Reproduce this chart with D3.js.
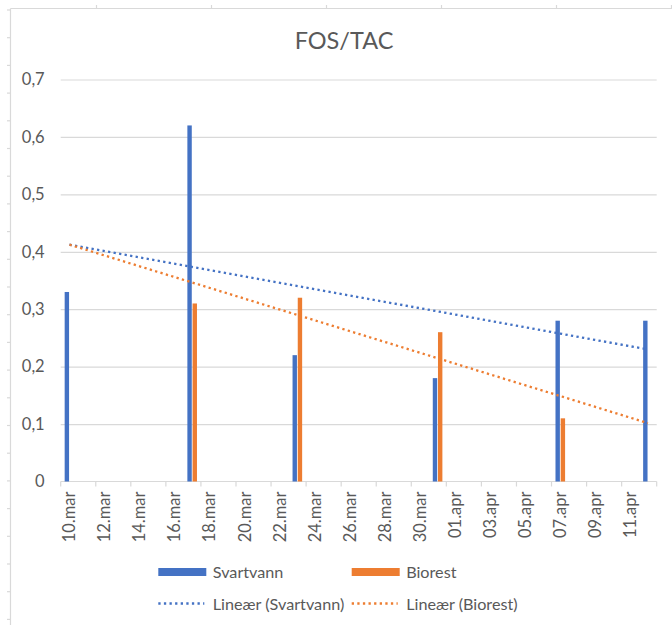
<!DOCTYPE html>
<html>
<head>
<meta charset="utf-8">
<script src="https://cdn.jsdelivr.net/npm/d3@7"></script>
<style>
  html, body { margin: 0; padding: 0; background: #ffffff; }
  svg { display: block; font-family: Lato, "Open Sans", sans-serif; }
</style>
</head>
<body>
<svg id="chart" width="672" height="625"></svg>
<script>
// Measurement dates and FOS/TAC values per series
const dates = ["2021-03-10", "2021-03-17", "2021-03-23", "2021-03-31", "2021-04-07", "2021-04-12"];
const svartvann = [0.33, 0.62, 0.22, 0.18, 0.28, 0.28];
const biorest = [null, 0.31, 0.32, 0.26, 0.11, null];

const seriesNames = ["Svartvann", "Biorest"];
const trendNames = ["Lineær (Svartvann)", "Lineær (Biorest)"];

const xTickLabels = ["10.mar", "12.mar", "14.mar", "16.mar", "18.mar", "20.mar", "22.mar", "24.mar",
  "26.mar", "28.mar", "30.mar", "01.apr", "03.apr", "05.apr", "07.apr", "09.apr", "11.apr"];
const yTickValues = [0, 0.1, 0.2, 0.3, 0.4, 0.5, 0.6, 0.7];
const yTickLabels = ["0", "0,1", "0,2", "0,3", "0,4", "0,5", "0,6", "0,7"];

const colors = { Svartvann: "#4472C4", Biorest: "#ED7D31" };
const textColor = "#595959";
const lineColor = "#d9d9d9";

const svg = d3.select("#chart");
const W = 672, H = 625;

// Sheet frame with header ticks along the top and left edges
const frame = svg.append("g").attr("stroke", lineColor).attr("stroke-width", 1.2).attr("fill", "none");
frame.append("line").attr("x1", 10.5).attr("x2", W).attr("y1", 8.5).attr("y2", 8.5);
frame.append("line").attr("x1", 10.5).attr("x2", 10.5).attr("y1", 8.5).attr("y2", H);
d3.range(96.5, W + 1, 115).forEach(px =>
  frame.append("line").attr("x1", px).attr("x2", px).attr("y1", 5).attr("y2", 8.5));
d3.range(10, H, 27.7).forEach(py =>
  frame.append("line").attr("x1", 7).attr("x2", 10.5).attr("y1", py).attr("y2", py));

// Plot scales
const parse = s => { const [yy, m, d] = s.split("-").map(Number); return new Date(Date.UTC(yy, m - 1, d)); };
const dayMs = 864e5;
const parsed = dates.map(parse);
const start = parsed[0];
const end = new Date(parsed[parsed.length - 1].getTime() + dayMs);

const plotLeft = 60.7, plotRight = 656.7, plotTop = 79.5, plotBottom = 481.5;
const x = d3.scaleUtc().domain([start, end]).range([plotLeft, plotRight]);
const y = d3.scaleLinear().domain([0, 0.7]).range([plotBottom, plotTop]);
const halfDay = (x(new Date(start.getTime() + dayMs)) - x(start)) / 2;
const cx = d => x(d) + halfDay;

// Title
svg.append("text")
  .attr("x", 344).attr("y", 48.5)
  .attr("text-anchor", "middle")
  .attr("fill", textColor)
  .style("font-size", "23.5px")
  .text("FOS/TAC");

// Horizontal gridlines and y labels
const yAxis = d3.axisLeft(y)
  .tickValues(yTickValues)
  .tickSize(-(plotRight - plotLeft))
  .tickPadding(16)
  .tickFormat((d, i) => yTickLabels[i]);
const gy = svg.append("g").attr("transform", `translate(${plotLeft},0)`).call(yAxis);
gy.select(".domain").remove();
gy.selectAll(".tick line").attr("stroke", lineColor).attr("stroke-width", 1.2);
gy.selectAll(".tick line").filter(d => d === 0).remove();
gy.selectAll(".tick text")
  .attr("fill", textColor)
  .style("font-size", "16.5px")
  .style("font-family", "Lato, sans-serif");

// Date axis: ticks every second day, labels at the centre of the day
const tickDates = d3.range(0, 35, 2).map(k => new Date(start.getTime() + k * dayMs));
const xAxisG = svg.append("g").attr("transform", `translate(0,${plotBottom})`);
xAxisG.append("line")
  .attr("x1", plotLeft).attr("x2", plotRight)
  .attr("stroke", lineColor).attr("stroke-width", 1.2);
xAxisG.selectAll("line.tick").data(tickDates).join("line")
  .attr("class", "tick")
  .attr("x1", d => x(d)).attr("x2", d => x(d))
  .attr("y1", 0).attr("y2", 5)
  .attr("stroke", lineColor).attr("stroke-width", 1.2);
xAxisG.selectAll("text").data(xTickLabels).join("text")
  .attr("transform", (d, i) => `translate(${cx(tickDates[i])},10) rotate(-90)`)
  .attr("text-anchor", "end")
  .attr("dy", "0.35em")
  .attr("fill", textColor)
  .style("font-size", "16.5px")
  .text(d => d);

// Clustered columns
const barW = 4.4, offset = 2.6;
const bars = svg.append("g");
const seriesData = [svartvann, biorest];
seriesData.forEach((vals, si) => {
  const name = seriesNames[si];
  const shift = si === 0 ? -offset : offset;
  bars.selectAll(null)
    .data(vals.map((v, i) => ({ d: parsed[i], v })).filter(p => p.v != null))
    .join("rect")
    .attr("x", p => cx(p.d) + shift - barW / 2)
    .attr("width", barW)
    .attr("y", p => y(p.v))
    .attr("height", p => y(0) - y(p.v))
    .attr("fill", colors[name]);
});

// Linear trendlines (least squares on day number), spanning the first to last date
const firstDay = parsed[0], lastDay = parsed[parsed.length - 1];
function fit(vals) {
  const pts = vals.map((v, i) => [(parsed[i] - start) / dayMs, v]).filter(p => p[1] != null);
  const mx = d3.mean(pts, p => p[0]), my = d3.mean(pts, p => p[1]);
  const sxy = d3.sum(pts, p => (p[0] - mx) * (p[1] - my));
  const sxx = d3.sum(pts, p => (p[0] - mx) ** 2);
  const b = sxy / sxx;
  return t => my + b * (t - mx);
}
const trendG = svg.append("g");
seriesData.forEach((vals, si) => {
  const f = fit(vals);
  const ends = [firstDay, lastDay];
  trendG.append("path")
    .datum(ends)
    .attr("d", d3.line().x(d => cx(d)).y(d => y(f((d - start) / dayMs))))
    .attr("fill", "none")
    .attr("stroke", colors[seriesNames[si]])
    .attr("stroke-width", 2.3)
    .attr("stroke-dasharray", "2.3 3.3");
});

// Legend
const legend = svg.append("g").style("font-size", "16.2px").attr("fill", textColor);
const legendCols = [158.3, 351.7];
seriesNames.forEach((name, i) => {
  const lx = legendCols[i];
  legend.append("rect")
    .attr("x", lx).attr("y", 568).attr("width", 48).attr("height", 8)
    .attr("fill", colors[name]);
  legend.append("text").attr("x", lx + 54.5).attr("y", 577.5).text(name);
  legend.append("line")
    .attr("x1", lx).attr("x2", lx + 46).attr("y1", 603.5).attr("y2", 603.5)
    .attr("stroke", colors[name]).attr("stroke-width", 2.3)
    .attr("stroke-dasharray", "2.3 3.3");
  legend.append("text").attr("x", lx + 54.5).attr("y", 609.5).text(trendNames[i]);
});
</script>
</body>
</html>
